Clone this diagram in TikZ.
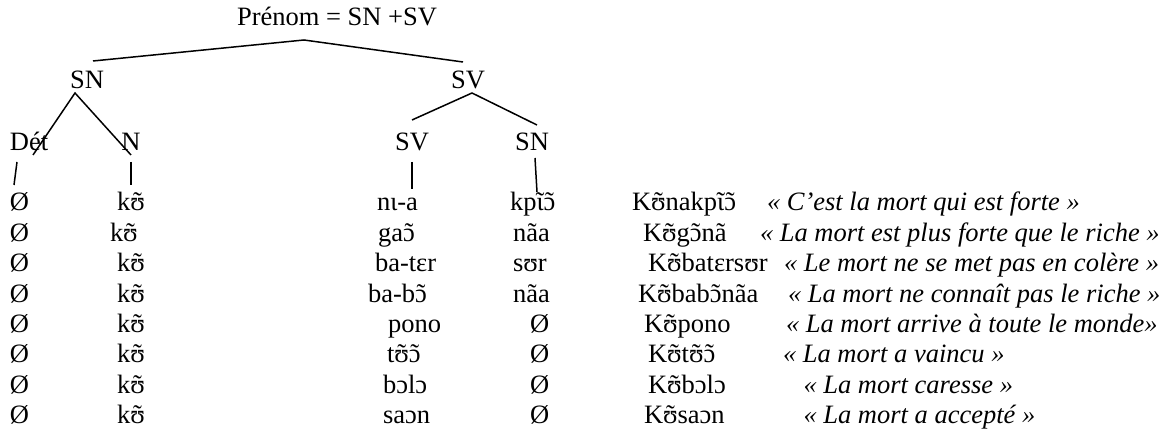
\documentclass[tikz,border=0pt]{standalone}
\usepackage{fontspec}
\setmainfont{Liberation Serif}
\newcommand\nz[1]{\ooalign{#1\cr\hidewidth\char"02DC\hidewidth\cr}}
\begin{document}
\begin{tikzpicture}[x=0.5pt,y=-0.5pt,
  every node/.style={inner sep=0pt,outer sep=0pt,font=\fontsize{13.25pt}{15pt}\selectfont},
  tw/.style={anchor=base west},
  tc/.style={anchor=base},
  gl/.style={anchor=base west,font=\fontsize{13.25pt}{15pt}\selectfont\itshape},
  branch/.style={line width=0.75pt,line cap=butt}]
\useasboundingbox (0,0) rectangle (1175,432);
% tree labels
\node[tc] (prenom) at (337,26) {Prénom = SN +SV};
\node[tc] (sn1) at (87,89) {SN};
\node[tc] (sv1) at (468,89) {SV};
\node[tw] (det) at (10,151) {Dét};
\node[tc] (n1) at (131,151) {N};
\node[tc] (sv2) at (412,151) {SV};
\node[tc] (sn2) at (532,151) {SN};
% branch end points
\coordinate (apex) at (304,40);
\coordinate (l1) at (93,61);
\coordinate (r1) at (463,62);
\coordinate (snA) at (75,93);
\coordinate (snL) at (33,155);
\coordinate (snR) at (131,155);
\coordinate (svA) at (472,93);
\coordinate (svL) at (412,120);
\coordinate (svR) at (537,125);
\coordinate (t1a) at (17,162); \coordinate (t1b) at (14,185);
\coordinate (t2a) at (131,162); \coordinate (t2b) at (131,185);
\coordinate (t3a) at (412,162); \coordinate (t3b) at (412,189);
\coordinate (t4a) at (535,158); \coordinate (t4b) at (537,192);
\draw[branch] (l1) -- (apex) -- (r1);
\draw[branch] (snL) -- (snA) -- (snR);
\draw[branch] (svL) -- (svA) -- (svR);
\draw[branch] (t1a) -- (t1b);
\draw[branch] (t2a) -- (t2b);
\draw[branch] (t3a) -- (t3b);
\draw[branch] (t4a) -- (t4b);
% rows
\foreach \i in {0,...,7} {
  \node[tw] (z\i) at (10,{211+30.4*\i}) {Ø};
}
\node[tw] (k0) at (117,211) {k\nz{ʊ}};
\node[tw] (k1) at (110,241.4) {k\nz{ʊ}};
\foreach \i in {2,...,7} {
  \node[tw] (k\i) at (117,{211+30.4*\i}) {k\nz{ʊ}};
}
% SV column
\node[tw] (v0) at (377,211) {nɩ-a};
\node[tw] (v1) at (378,241.4) {ga\nz{ɔ}};
\node[tw] (v2) at (375,271.8) {ba-tɛr};
\node[tw] (v3) at (368,302.2) {ba-b\nz{ɔ}};
\node[tw] (v4) at (388,332.6) {pono};
\node[tw] (v5) at (387,363) {t\nz{ʊ}\nz{ɔ}};
\node[tw] (v6) at (383,393.4) {bɔlɔ};
\node[tw] (v7) at (383,423.8) {saɔn};
% SN column
\node[tw] (s0) at (510,211) {kp\nz{ɩ}\nz{ɔ}};
\node[tw] (s1) at (513,241.4) {nãa};
\node[tw] (s2) at (513,271.8) {sʊr};
\node[tw] (s3) at (513,302.2) {nãa};
\node[tw] (s4) at (530,332.6) {Ø};
\node[tw] (s5) at (530,363) {Ø};
\node[tw] (s6) at (530,393.4) {Ø};
\node[tw] (s7) at (530,423.8) {Ø};
% names
\node[tw] (p0) at (632,211) {K\nz{ʊ}nakp\nz{ɩ}\nz{ɔ}};
\node[tw] (p1) at (643,241.4) {K\nz{ʊ}g\nz{ɔ}nã};
\node[tw] (p2) at (648,271.8) {K\nz{ʊ}batɛrsʊr};
\node[tw] (p3) at (638,302.2) {K\nz{ʊ}bab\nz{ɔ}nãa};
\node[tw] (p4) at (644,332.6) {K\nz{ʊ}pono};
\node[tw] (p5) at (648,363) {K\nz{ʊ}t\nz{ʊ}\nz{ɔ}};
\node[tw] (p6) at (648,393.4) {K\nz{ʊ}bɔlɔ};
\node[tw] (p7) at (644,423.8) {K\nz{ʊ}saɔn};
% glosses
\node[gl] (g0) at (767,211) {« C’est la mort qui est forte »};
\node[gl] (g1) at (760,241.4) {« La mort est plus forte que le riche »};
\node[gl] (g2) at (784,271.8) {« Le mort ne se met pas en colère »};
\node[gl] (g3) at (788,302.2) {« La mort ne connaît pas le riche »};
\node[gl] (g4) at (786,332.6) {« La mort arrive à toute le monde»};
\node[gl] (g5) at (783,363) {« La mort a vaincu »};
\node[gl] (g6) at (803.5,393.4) {« La mort caresse »};
\node[gl] (g7) at (803.5,423.8) {« La mort a accepté »};
\end{tikzpicture}
\end{document}
